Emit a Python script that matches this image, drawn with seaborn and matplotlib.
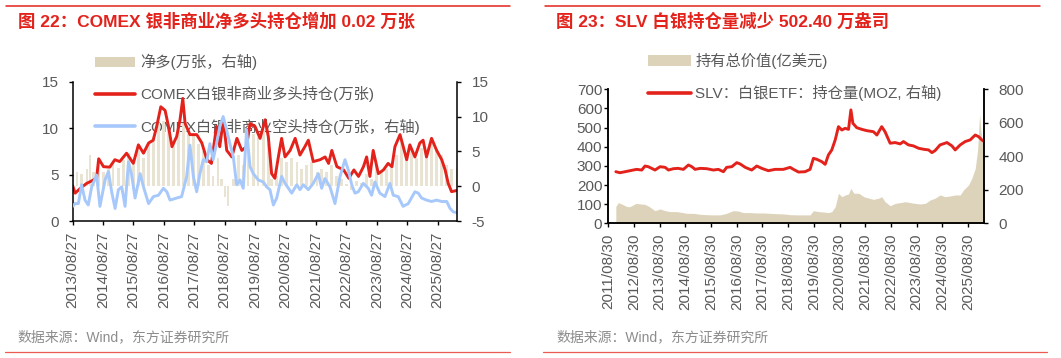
import pandas as pd
import matplotlib
matplotlib.use('Agg')
import matplotlib.pyplot as plt
from matplotlib.lines import Line2D
from matplotlib.patches import Patch
import seaborn as sns

# ---------------- 图22：COMEX 白银非商业持仓 ----------------
# 多头持仓(万张，左轴)
long_dates = ['2013-08-27', '2013-09-25', '2013-11-25', '2014-02-10', '2014-05-01', '2014-06-10',
              '2014-07-05', '2014-09-01', '2014-11-15', '2015-01-15', '2015-03-15', '2015-06-05',
              '2015-08-25', '2015-10-25', '2015-12-25', '2016-02-25', '2016-04-20', '2016-06-01',
              '2016-07-20', '2016-09-10', '2016-10-20', '2016-12-01', '2017-01-27', '2017-03-08',
              '2017-04-10', '2017-05-08', '2017-07-05', '2017-09-25', '2017-11-25', '2018-01-25',
              '2018-03-20', '2018-05-20', '2018-06-28', '2018-08-10', '2018-09-20', '2018-11-20',
              '2019-01-20', '2019-03-20', '2019-05-15', '2019-06-27', '2019-08-25', '2019-10-25',
              '2019-12-25', '2020-02-01', '2020-03-12', '2020-04-20', '2020-06-01', '2020-07-10',
              '2020-08-20', '2020-10-20', '2020-12-20', '2021-02-15', '2021-04-15', '2021-05-27',
              '2021-07-25', '2021-10-15', '2021-12-15', '2022-01-25', '2022-03-05', '2022-05-05',
              '2022-07-25', '2022-09-25', '2022-11-25', '2023-01-20', '2023-03-20', '2023-04-27',
              '2023-06-05', '2023-07-15', '2023-09-15', '2023-11-15', '2024-01-10', '2024-02-25',
              '2024-04-01', '2024-06-01', '2024-07-10', '2024-08-20', '2024-09-27', '2024-11-27',
              '2025-01-25', '2025-03-05', '2025-04-15', '2025-06-15', '2025-08-15', '2025-10-15',
              '2025-11-25', '2026-01-01', '2026-02-10', '2026-04-20']
long_vals = [3.8, 3.0, 3.5, 4.05, 4.4, 4.6,
             6.7, 5.85, 5.8, 6.6, 6.4, 7.3,
             6.2, 8.2, 7.3, 8.4, 8.7, 10.2,
             12.3, 11.9, 10.2, 8.0, 9.1, 10.9,
             13.2, 10.5, 9.3, 9.3, 8.4, 6.6,
             6.2, 10.2, 8.0, 10.9, 7.6, 6.9,
             8.9, 7.6, 8.0, 10.5, 10.2, 8.9,
             10.9, 9.1, 5.1, 4.6, 6.9, 8.9,
             6.9, 7.6, 8.9, 7.1, 8.0, 8.7,
             6.4, 6.6, 6.9, 6.2, 7.6, 5.85,
             5.5, 4.6, 5.5, 4.8, 5.85, 6.9,
             4.8, 7.6, 5.1, 5.5, 6.2, 5.85,
             8.0, 9.3, 8.0, 6.6, 8.2, 6.9,
             8.4, 8.7, 6.9, 8.9, 7.6, 6.6,
             5.5, 4.05, 3.16, 3.3]

# 空头持仓(万张，右轴)
short_dates = ['2013-08-27', '2013-09-25', '2013-11-03', '2013-12-12', '2014-01-22', '2014-03-02',
               '2014-04-12', '2014-06-10', '2014-07-20', '2014-09-20', '2014-10-30', '2014-12-08',
               '2015-01-18', '2015-02-27', '2015-04-08', '2015-05-18', '2015-06-28', '2015-08-05',
               '2015-09-15', '2015-11-15', '2015-12-25', '2016-02-24', '2016-04-22', '2016-06-22',
               '2016-08-20', '2016-09-30', '2016-11-08', '2017-01-27', '2017-03-27', '2017-05-27',
               '2017-07-05', '2017-08-15', '2017-09-24', '2017-11-02', '2017-12-12', '2018-01-22',
               '2018-03-02', '2018-04-10', '2018-05-20', '2018-06-28', '2018-08-08', '2018-09-18',
               '2018-10-28', '2018-12-08', '2019-01-17', '2019-02-26', '2019-04-06', '2019-05-16',
               '2019-06-27', '2019-08-05', '2019-10-03', '2019-12-03', '2020-01-12', '2020-02-21',
               '2020-04-02', '2020-05-12', '2020-07-10', '2020-08-20', '2020-09-30', '2020-11-08',
               '2021-01-08', '2021-02-16', '2021-03-28', '2021-05-27', '2021-07-25', '2021-09-24',
               '2021-11-03', '2021-12-12', '2022-02-11', '2022-04-12', '2022-06-12', '2022-08-10',
               '2022-09-20', '2022-10-30', '2022-12-08', '2023-01-17', '2023-03-18', '2023-05-16',
               '2023-06-26', '2023-08-05', '2023-10-03', '2023-12-03', '2024-02-01', '2024-03-12',
               '2024-05-10', '2024-07-08', '2024-09-08', '2024-11-27', '2025-01-06', '2025-02-15',
               '2025-04-15', '2025-06-15', '2025-08-14', '2025-10-14', '2025-12-14', '2026-01-23',
               '2026-03-03', '2026-04-20']
short_vals = [-2.9, -2.5, -2.5, 0.2, -2.0, -2.7,
              -0.1, 1.6, -2.9, 0.9, 2.1, -0.8,
              -3.2, -0.5, -0.1, -2.9, 3.5, 1.6,
              -1.7, 1.8, -0.1, -2.5, -1.5, -1.3,
              -0.3, -0.8, -2.0, -1.7, -1.5, 1.4,
              5.9, 1.4, -0.8, 1.8, 3.8, 3.5,
              6.1, 3.8, 6.1, 8.5, 10.0, 8.1,
              6.1, 4.2, 0.2, 0.9, -0.3, 8.1,
              2.8, 1.8, 0.9, 0.6, -0.1, -0.5,
              -2.7, -1.7, 1.4, 0.4, -0.3, -1.0,
              0.2, -0.5, 0.2, -0.5, 0.4, 1.8,
              -0.3, 1.1, -0.1, -2.5, 1.4, 3.8,
              2.3, 0.2, -1.0, -0.8, 0.4, -0.3,
              -1.3, 0.6, -1.0, -1.5, 0.4, -1.3,
              -1.5, -2.9, -2.5, -0.8, -1.0, -1.7,
              -2.0, -2.2, -2.0, -2.2, -2.2, -3.2,
              -3.7, -3.8]

# 净多(万张，右轴)
net_dates = ['2013-08-27', '2013-10-15', '2013-12-12', '2014-02-12', '2014-03-22', '2014-05-01',
             '2014-06-30', '2014-08-30', '2014-10-30', '2014-12-27', '2015-02-27', '2015-04-27',
             '2015-06-27', '2015-08-25', '2015-10-25', '2015-12-25', '2016-02-24', '2016-04-22',
             '2016-06-22', '2016-08-20', '2016-10-20', '2016-12-20', '2017-02-18', '2017-04-18',
             '2017-06-15', '2017-08-15', '2017-10-15', '2017-12-12', '2018-02-10', '2018-04-10',
             '2018-06-10', '2018-07-20', '2018-08-28', '2018-10-08', '2018-12-08', '2019-02-06',
             '2019-04-06', '2019-06-05', '2019-08-05', '2019-10-03', '2019-12-03', '2020-02-01',
             '2020-03-12', '2020-05-12', '2020-07-10', '2020-09-08', '2020-11-08', '2021-01-08',
             '2021-03-05', '2021-05-05', '2021-07-05', '2021-09-05', '2021-11-03', '2022-01-02',
             '2022-03-02', '2022-05-02', '2022-06-30', '2022-08-30', '2022-10-30', '2022-12-27',
             '2023-02-25', '2023-04-27', '2023-06-26', '2023-08-24', '2023-10-24', '2023-12-24',
             '2024-02-21', '2024-04-21', '2024-06-21', '2024-08-20', '2024-10-18', '2024-12-18',
             '2025-02-15', '2025-04-15', '2025-06-15', '2025-08-14', '2025-10-14', '2025-12-14',
             '2026-02-10', '2026-04-20']
net_vals = [1.5, 2.0, 1.8, 2.5, 4.5, 2.0,
            3.0, 2.0, 2.5, 3.0, 2.6, 3.8,
            4.8, 3.0, 5.0, 4.0, 6.0, 7.0,
            9.0, 9.4, 8.0, 6.5, 8.0, 9.0,
            7.5, 7.5, 6.0, 5.0, 3.0, 1.5,
            4.0, 1.0, -1.5, -2.8, 1.0, 4.5,
            3.0, 5.5, 7.5, 7.0, 8.0, 6.0,
            1.0, 1.5, 4.0, 3.5, 4.0, 3.5,
            2.5, 3.0, 3.5, 2.0, 2.5, 2.0,
            3.0, 1.5, 1.0, 0.3, -0.5, 0.8,
            0.5, 1.8, 1.0, 3.0, 2.0, 2.5,
            3.0, 4.5, 6.5, 4.0, 5.5, 4.0,
            5.5, 4.5, 6.0, 5.0, 4.5, 3.0,
            2.5, 2.4]

ticks22 = ['2013/08/27', '2014/08/27', '2015/08/27', '2016/08/27', '2017/08/27', '2018/08/27',
           '2019/08/27', '2020/08/27', '2021/08/27', '2022/08/27', '2023/08/27', '2024/08/27',
           '2025/08/27']

# ---------------- 图23：SLV 白银 ETF ----------------
# 持仓量(MOZ，右轴)
slv_dates = ['2011-12-15', '2012-02-12', '2012-04-25', '2012-07-03', '2012-10-05', '2012-12-18',
             '2013-02-02', '2013-03-20', '2013-05-08', '2013-06-24', '2013-09-05', '2013-11-15',
             '2014-01-02', '2014-03-12', '2014-05-20', '2014-08-02', '2014-10-12', '2014-11-30',
             '2015-01-15', '2015-03-28', '2015-06-30', '2015-10-02', '2015-12-12', '2016-02-22',
             '2016-04-08', '2016-06-20', '2016-08-30', '2016-10-18', '2016-12-28', '2017-03-30',
             '2017-06-10', '2017-08-20', '2017-11-22', '2018-02-25', '2018-06-22', '2018-09-28',
             '2018-11-14', '2019-01-25', '2019-04-28', '2019-07-08', '2019-08-25', '2019-10-12',
             '2019-12-22', '2020-02-08', '2020-03-25', '2020-05-12', '2020-06-30', '2020-08-15',
             '2020-10-02', '2020-11-18', '2021-01-05', '2021-02-08', '2021-03-08', '2021-05-02',
             '2021-07-12', '2021-09-22', '2021-12-25', '2022-02-12', '2022-04-22', '2022-06-08',
             '2022-08-20', '2022-10-30', '2023-01-10', '2023-02-25', '2023-05-08', '2023-07-18',
             '2023-09-28', '2023-12-08', '2024-02-18', '2024-04-05', '2024-05-20', '2024-07-30',
             '2024-11-05', '2025-01-15', '2025-03-02', '2025-05-12', '2025-07-22', '2025-10-02',
             '2025-12-12', '2026-01-30', '2026-03-15', '2026-04-18']
slv_vals = [308, 302, 308, 314, 322, 318,
            342, 338, 328, 318, 338, 334,
            318, 326, 328, 322, 348, 338,
            322, 328, 326, 318, 322, 308,
            334, 338, 362, 354, 334, 318,
            342, 328, 314, 322, 322, 334,
            322, 306, 308, 322, 388, 382,
            368, 352, 408, 438, 498, 577,
            557, 567, 561, 677, 597, 571,
            561, 553, 547, 527, 577, 547,
            478, 482, 474, 488, 468, 462,
            448, 442, 438, 422, 434, 468,
            482, 462, 438, 468, 488, 498,
            527, 517, 498, 488]

# 持有总价值(亿美元，左轴)
value_dates = ['2011-12-15', '2012-01-20', '2012-03-05', '2012-05-25', '2012-07-03', '2012-09-28',
               '2012-12-05', '2013-02-02', '2013-04-05', '2013-06-24', '2013-09-05', '2013-11-15',
               '2014-01-25', '2014-05-01', '2014-07-10', '2014-09-20', '2014-12-25', '2015-03-28',
               '2015-06-30', '2015-10-02', '2016-01-05', '2016-04-08', '2016-07-10', '2016-09-20',
               '2016-11-30', '2017-03-05', '2017-06-10', '2017-09-12', '2017-12-15', '2018-03-20',
               '2018-06-22', '2018-09-28', '2019-01-01', '2019-04-05', '2019-07-08', '2019-08-25',
               '2019-11-05', '2020-01-15', '2020-03-25', '2020-05-12', '2020-06-30', '2020-08-15',
               '2020-10-02', '2020-11-18', '2021-01-05', '2021-02-08', '2021-03-20', '2021-05-30',
               '2021-08-10', '2021-10-22', '2021-12-25', '2022-03-10', '2022-04-22', '2022-06-08',
               '2022-08-20', '2022-10-30', '2023-01-10', '2023-03-22', '2023-06-02', '2023-08-12',
               '2023-10-22', '2024-01-02', '2024-03-12', '2024-05-20', '2024-07-30', '2024-10-10',
               '2024-12-20', '2025-03-02', '2025-05-12', '2025-06-28', '2025-09-08', '2025-10-25',
               '2025-12-12', '2026-01-15', '2026-02-12', '2026-03-02', '2026-03-30', '2026-04-18']
value_vals = [88, 108, 101, 87, 87, 104,
              101, 99, 87, 66, 75, 66,
              61, 61, 57, 52, 52, 47,
              45, 44, 44, 52, 66, 64,
              56, 56, 54, 54, 52, 50,
              49, 45, 44, 44, 44, 66,
              61, 59, 56, 61, 87, 157,
              139, 148, 153, 183, 157, 157,
              139, 131, 125, 131, 139, 113,
              92, 104, 108, 113, 108, 104,
              101, 104, 122, 131, 148, 139,
              143, 148, 148, 174, 200, 235,
              287, 383, 570, 488, 400, 374]

ticks23 = ['2011/08/30', '2012/08/30', '2013/08/30', '2014/08/30', '2015/08/30', '2016/08/30',
           '2017/08/30', '2018/08/30', '2019/08/30', '2020/08/30', '2021/08/30', '2022/08/30',
           '2023/08/30', '2024/08/30', '2025/08/30']

# ---------------- 样式 ----------------
RED = '#e3221b'
BLUE = '#a7c8fb'
BAR = '#e9e3d3'
AREA = '#ddd3bb'
GREY = '#595959'
W, H = 1061, 358

sns.set_theme(style='ticks')
plt.rcParams['font.family'] = ['Liberation Sans', 'Noto Sans CJK SC', 'DejaVu Sans']
plt.rcParams['axes.unicode_minus'] = False


def fx(px):
    return px / W


def fy(py):
    return 1 - py / H


def style_axis(ax, which, pad):
    ax.tick_params(axis=which, direction='out', length=3.1, width=1, color='black',
                   labelcolor=GREY, labelsize=11, pad=pad)


fig = plt.figure(figsize=(W / 100, H / 100), dpi=100)

# ======== 图22 ========
ax1b = fig.add_axes([fx(72.7), fy(221), fx(457.3 - 72.7), (221 - 81.7) / H])
ax1 = ax1b.twinx()
ax1r = ax1b.twinx()
for a, z in ((ax1b, 0), (ax1, 1), (ax1r, 2)):
    a.set_zorder(z)
    a.patch.set_visible(False)

ax1b.bar(pd.to_datetime(net_dates), net_vals, width=30, color=BAR, linewidth=0)
sns.lineplot(x=pd.to_datetime(long_dates), y=long_vals, ax=ax1, color=RED, linewidth=2.1)
sns.lineplot(x=pd.to_datetime(short_dates), y=short_vals, ax=ax1r, color=BLUE, linewidth=2.1)

ax1b.set_ylim(-5, 15)
ax1r.set_ylim(-5, 15)
ax1.set_ylim(0, 15)
ax1.set_xlim(pd.Timestamp('2013-08-27'), pd.Timestamp('2026-04-20'))

# 左轴刻度放在 ax1 上，ax1b 只负责柱子
ax1b.set_yticks([])
ax1.yaxis.tick_left()
ax1.set_yticks([0, 5, 10, 15])
ax1r.set_yticks([-5, 0, 5, 10, 15])
ax1b.set_xticks(pd.to_datetime(ticks22, format='%Y/%m/%d'))
ax1b.set_xticklabels(ticks22, rotation=90)
for a in (ax1b, ax1, ax1r):
    a.set_xlabel('')
    a.set_ylabel('')
    for s in a.spines.values():
        s.set_visible(False)
ax1b.spines['bottom'].set_visible(True)
ax1.spines['left'].set_visible(True)
ax1r.spines['right'].set_visible(True)
for a in (ax1b, ax1, ax1r):
    for s in a.spines.values():
        s.set_color('black')
        s.set_linewidth(1.1)
style_axis(ax1b, 'x', 4.6)
style_axis(ax1, 'y', 6.8)
style_axis(ax1r, 'y', 7.2)

# ======== 图23 ========
ax2 = fig.add_axes([fx(608.3), fy(223.3), fx(984.3 - 608.3), (223.3 - 89.3) / H])
ax2r = ax2.twinx()
ax2.patch.set_visible(False)
ax2r.patch.set_visible(False)

ax2.fill_between(pd.to_datetime(value_dates), value_vals, 0, color=AREA, linewidth=0)
sns.lineplot(x=pd.to_datetime(slv_dates), y=slv_vals, ax=ax2r, color=RED, linewidth=2.1)

ax2.set_ylim(0, 700)
ax2.set_yticks(range(0, 701, 100))
ax2r.set_ylim(0, 800)
ax2r.set_yticks(range(0, 801, 200))
ax2.set_xlim(pd.Timestamp('2011-08-30'), pd.Timestamp('2026-04-20'))
ax2.set_xticks(pd.to_datetime(ticks23, format='%Y/%m/%d'))
ax2.set_xticklabels(ticks23, rotation=90)
for a in (ax2, ax2r):
    a.set_xlabel('')
    a.set_ylabel('')
    for s in a.spines.values():
        s.set_color('black')
        s.set_linewidth(1.1)
    a.spines['top'].set_visible(False)
style_axis(ax2, 'x', 4.2)
style_axis(ax2, 'y', 1.2)
style_axis(ax2r, 'y', 7.0)

# ======== 图例 ========
leg1 = fig.legend(handles=[Patch(facecolor=AREA, edgecolor='none'),
                           Line2D([], [], color=RED, linewidth=2.6),
                           Line2D([], [], color=BLUE, linewidth=2.6)],
                  labels=['净多(万张，右轴)', 'COMEX白银非商业多头持仓(万张)',
                          'COMEX白银非商业空头持仓(万张，右轴)'],
                  loc='upper left', bbox_to_anchor=(fx(95), fy(54)), frameon=False,
                  fontsize=11, labelcolor=GREY, handlelength=2.6, handletextpad=0.35,
                  labelspacing=1.05, borderpad=0, borderaxespad=0)
leg1.set_zorder(-1)
leg2 = fig.legend(handles=[Patch(facecolor=AREA, edgecolor='none'),
                           Line2D([], [], color=RED, linewidth=2.6)],
                  labels=['持有总价值(亿美元)', 'SLV：白银ETF：持仓量(MOZ, 右轴)'],
                  loc='upper left', bbox_to_anchor=(fx(648), fy(53)), frameon=False,
                  fontsize=11, labelcolor=GREY, handlelength=2.8, handletextpad=0.3,
                  labelspacing=1.05, borderpad=0, borderaxespad=0)
leg2.set_zorder(-1)

# ======== 标题、分隔线、来源 ========
fig.text(fx(18), fy(21), '图 22：COMEX 银非商业净多头持仓增加 0.02 万张', color=RED,
         fontsize=12.5, fontweight='bold', ha='left', va='center')
fig.text(fx(556), fy(21), '图 23：SLV 白银持仓量减少 502.40 万盎司', color=RED,
         fontsize=12.5, fontweight='bold', ha='left', va='center')
for x0, x1 in ((6, 510), (545, 1040)):
    fig.add_artist(Line2D([fx(x0), fx(x1)], [fy(6), fy(6)], color=RED, linewidth=1.1))
for x0, x1 in ((5, 510), (543, 1047)):
    fig.add_artist(Line2D([fx(x0), fx(x1)], [fy(352), fy(352)], color='#ec5b52', linewidth=0.9))
fig.text(fx(17), fy(337), '数据来源：Wind，东方证券研究所', color='#8c8c8c', fontsize=10,
         ha='left', va='center')
fig.text(fx(556), fy(337), '数据来源：Wind，东方证券研究所', color='#8c8c8c', fontsize=10,
         ha='left', va='center')

fig.savefig('out.png', dpi=100)
